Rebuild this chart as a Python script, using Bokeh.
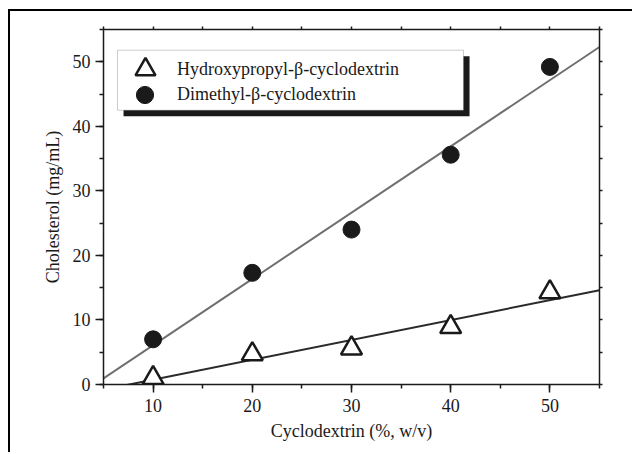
import numpy as np
from bokeh.plotting import figure
from bokeh.models import (Range1d, LinearAxis, SingleIntervalTicker, Legend, LegendItem,
                          BoxAnnotation)
from bokeh.embed import file_html
from bokeh.resources import INLINE

# ---- data ----
cd_conc = [10, 20, 30, 40, 50]
hp_beta = [1.0, 4.7, 5.6, 8.9, 14.3]
dm_beta = [7.0, 17.3, 24.0, 35.6, 49.2]
label_hp = "Hydroxypropyl-β-cyclodextrin"
label_dm = "Dimethyl-β-cyclodextrin"
x_title = "Cyclodextrin (%, w/v)"
y_title = "Cholesterol (mg/mL)"

FONT = "Liberation Serif"
FS = "18px"
INK = "#1a1a1a"

p = figure(width=624, height=443, output_backend="svg", toolbar_location=None,
           x_range=Range1d(5, 55), y_range=Range1d(0, 55),
           min_border_left=93, min_border_right=35, min_border_top=18, min_border_bottom=70)
p.styles = {"margin-left": "8px", "margin-top": "9px",
            "border-left": "2px solid black", "border-top": "2px solid black"}
p.grid.visible = False
p.outline_line_color = None
p.background_fill_color = "white"
p.border_fill_color = "white"

for ax in (p.xaxis[0], p.yaxis[0]):
    ax.ticker = SingleIntervalTicker(interval=10, num_minor_ticks=2)
    ax.major_tick_out = 8
    ax.major_tick_in = 0
    ax.minor_tick_out = 4
    ax.minor_tick_in = 0
    ax.axis_line_color = INK
    ax.axis_line_width = 1.5
    ax.major_tick_line_color = INK
    ax.major_tick_line_width = 1.5
    ax.minor_tick_line_color = INK
    ax.minor_tick_line_width = 1.5
    ax.major_label_text_font = FONT
    ax.major_label_text_font_size = FS
    ax.major_label_text_color = INK
    ax.axis_label_text_font = FONT
    ax.axis_label_text_font_size = FS
    ax.axis_label_text_font_style = "normal"
    ax.axis_label_text_color = INK

p.xaxis[0].axis_label = x_title
p.yaxis[0].axis_label = y_title
p.xaxis[0].major_label_standoff = 6
p.xaxis[0].axis_label_standoff = 6
p.yaxis[0].major_label_standoff = 5
p.yaxis[0].axis_label_standoff = 7

for side in ("right", "above"):
    ax = LinearAxis(ticker=SingleIntervalTicker(interval=5, num_minor_ticks=0))
    ax.major_tick_out = 3
    ax.major_tick_in = 0
    ax.minor_tick_out = 0
    ax.major_label_text_font_size = "1px"
    ax.major_label_text_color = None
    ax.major_label_standoff = 0
    ax.axis_line_color = INK
    ax.axis_line_width = 1.5
    ax.major_tick_line_color = INK
    ax.major_tick_line_width = 1.5
    p.add_layout(ax, side)

# regression lines from the data
xs = np.array([p.x_range.start, p.x_range.end])
m_dm, b_dm = np.polyfit(cd_conc, dm_beta, 1)
m_hp, b_hp = np.polyfit(cd_conc, hp_beta, 1)
p.line(xs, m_dm * xs + b_dm, line_color="#6f6f6f", line_width=2)
p.line(xs, m_hp * xs + b_hp, line_color="#2a2a2a", line_width=2)

r_hp = p.scatter(cd_conc, hp_beta, marker="triangle", size=21, fill_color="white",
                 line_color=INK, line_width=2.5)
r_dm = p.scatter(cd_conc, dm_beta, marker="circle", size=17, fill_color=INK,
                 line_color=INK, line_width=1)

# legend frame with drop shadow
shadow = BoxAnnotation(left=7.02, right=41.9, bottom=41.56, top=50.86,
                       fill_color=INK, fill_alpha=1, line_color=None)
box = BoxAnnotation(left=6.41, right=41.29, bottom=42.49, top=51.79,
                    fill_color="white", fill_alpha=1, line_color="#555555", line_width=1)
p.add_layout(shadow)
p.add_layout(box)

common = dict(orientation="vertical", padding=0, spacing=0, margin=0,
              label_text_font=FONT, label_text_font_size=FS, label_text_color=INK,
              border_line_color=None, background_fill_alpha=0)
leg_hp = Legend(items=[LegendItem(label=label_hp, renderers=[r_hp])],
                location=(17, 290), glyph_width=50, glyph_height=50, label_height=50,
                label_standoff=7, **common)
leg_dm = Legend(items=[LegendItem(label=label_dm, renderers=[r_dm])],
                location=(20, 268), glyph_width=43, glyph_height=43, label_height=43,
                label_standoff=11, **common)
p.add_layout(leg_hp, "center")
p.add_layout(leg_dm, "center")

open("out.html", "w").write(file_html(p, INLINE))
